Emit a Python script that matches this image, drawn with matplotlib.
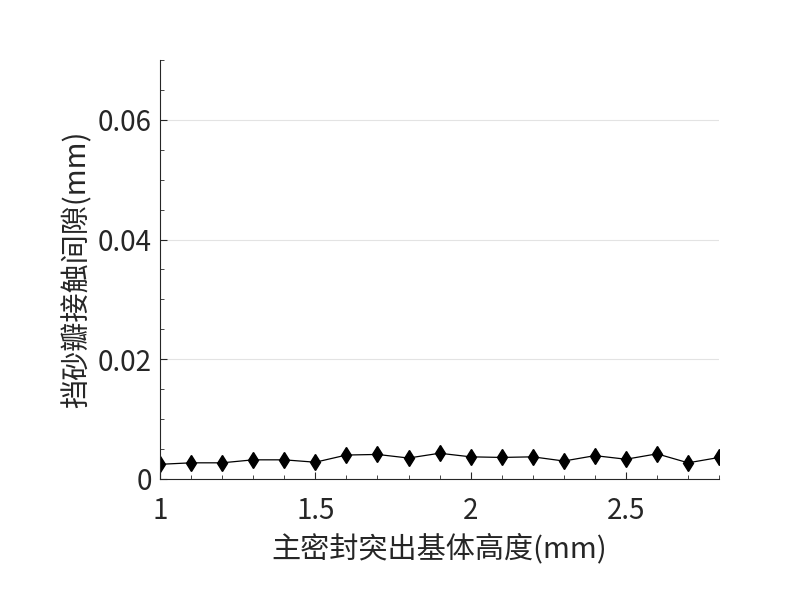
import matplotlib
matplotlib.use('Agg')
import matplotlib.pyplot as plt
import numpy as np
from matplotlib.ticker import MultipleLocator, FuncFormatter

plt.rcParams['font.family'] = ['Noto Sans CJK SC', 'DejaVu Sans']

# 主密封突出基体高度 (mm)
height = [1.0, 1.1, 1.2, 1.3, 1.4, 1.5, 1.6, 1.7, 1.8, 1.9,
          2.0, 2.1, 2.2, 2.3, 2.4, 2.5, 2.6, 2.7, 2.8]
# 挡砂瓣接触间隙 (mm)
gap = [0.00245, 0.0027, 0.0027, 0.0032, 0.0032, 0.0028, 0.0040, 0.0041, 0.0035, 0.0043,
       0.0037, 0.0036, 0.0037, 0.0030, 0.0039, 0.0033, 0.0042, 0.0027, 0.0036]

xlabel = '主密封突出基体高度(mm)'
ylabel = '挡砂瓣接触间隙(mm)'

fig = plt.figure(figsize=(8, 6), dpi=100)
ax = fig.add_axes([0.2, 0.2017, 0.699, 0.6983])

ax.plot(height, gap, color='black', lw=0.9, marker='d', markersize=8,
        markerfacecolor='black', markeredgecolor='black')

ax.set_xlim(1, 2.8)
ax.set_ylim(0, 0.07)
ax.xaxis.set_major_locator(MultipleLocator(0.5))
ax.xaxis.set_minor_locator(MultipleLocator(0.1))
ax.yaxis.set_major_locator(MultipleLocator(0.02))
ax.yaxis.set_minor_locator(MultipleLocator(0.005))

fmt = FuncFormatter(lambda v, p: ('%g' % round(v, 6)))
ax.xaxis.set_major_formatter(fmt)
ax.yaxis.set_major_formatter(fmt)

ax.grid(axis='y', which='major', color='#e3e3e3', lw=0.8)
ax.set_axisbelow(True)

for s in ['top', 'right']:
    ax.spines[s].set_visible(False)
for s in ['left', 'bottom']:
    ax.spines[s].set_color('#262626')
    ax.spines[s].set_linewidth(0.8)

ax.tick_params(which='both', direction='in', colors='#262626', labelsize=20,
               labelcolor='#262626')
ax.tick_params(which='major', length=5)
ax.tick_params(axis='x', which='major', pad=12)
ax.tick_params(axis='y', which='major', pad=6)
ax.tick_params(which='minor', length=3)

ax.set_xlabel(xlabel, fontsize=21, color='#262626', labelpad=6)
ax.set_ylabel(ylabel, fontsize=21, color='#262626', labelpad=4)

fig.savefig('out.png', dpi=100)
